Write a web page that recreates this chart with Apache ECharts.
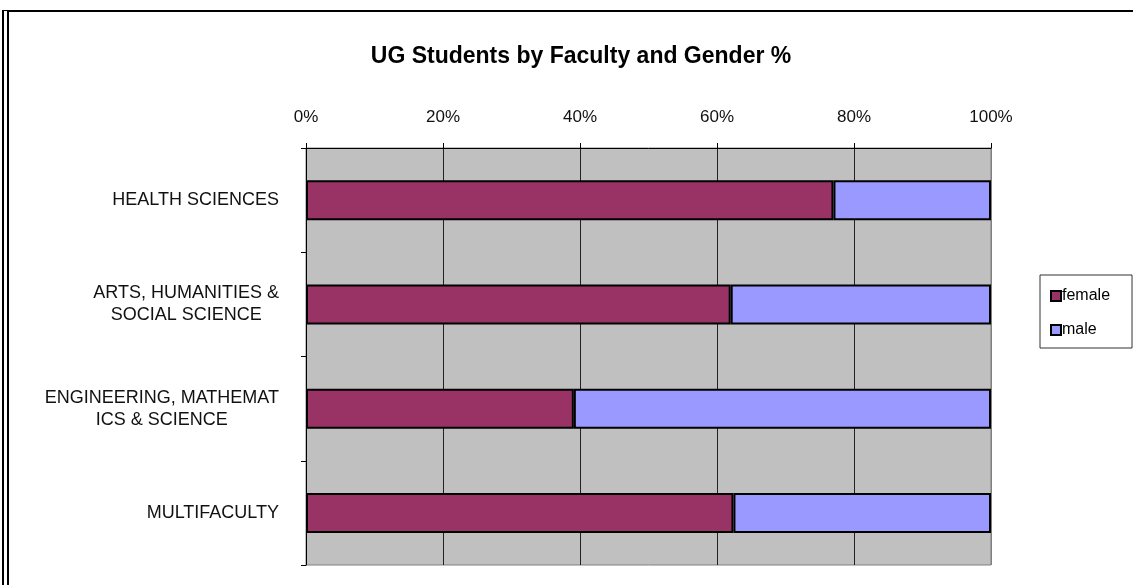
<!DOCTYPE html>
<html>
<head>
<meta charset="utf-8">
<script src="https://cdn.jsdelivr.net/npm/echarts@6/dist/echarts.min.js"></script>
<style>
  html, body { margin: 0; padding: 0; background: #fff; }
  #wrap { position: relative; width: 1133px; height: 585px; }
  #chart { width: 1133px; height: 585px; }
  #frame {
    position: absolute; left: 2px; top: 10px; width: 1140px; height: 600px;
    border-left: 7px double #000; border-top: 2px solid #000;
    pointer-events: none;
  }
</style>
</head>
<body>
<div id="wrap">
  <div id="chart"></div>
  <div id="frame"></div>
</div>
<script>
// faculties, top to bottom
const faculties = [
  "HEALTH SCIENCES",
  "ARTS, HUMANITIES &\nSOCIAL SCIENCE",
  "ENGINEERING, MATHEMAT\nICS & SCIENCE",
  "MULTIFACULTY"
];
const femalePct = [77.0, 62.0, 39.1, 62.4];
const malePct = [23.0, 38.0, 60.9, 37.6];
const xTicks = [0, 20, 40, 60, 80, 100];

let myChart = echarts.init(document.getElementById("chart"));
let font = "'Liberation Sans', Arial, sans-serif";

myChart.setOption({
  animation: false,
  textStyle: { fontFamily: font },
  title: {
    text: "UG Students by Faculty and Gender %",
    left: 576,
    top: 40,
    textAlign: "center",
    textStyle: { fontSize: 23, fontWeight: "bold", color: "#000", fontFamily: font }
  },
  legend: {
    orient: "vertical",
    left: 1040,
    top: 275,
    padding: [13, 22, 10, 10],
    borderColor: "#333",
    borderWidth: 1,
    itemWidth: 10,
    itemHeight: 10,
    itemGap: 18,
    icon: "rect",
    textStyle: { fontSize: 16, color: "#000", padding: [0, 0, 0, -4] },
    data: ["female", "male"]
  },
  grid: {
    left: 306,
    top: 148,
    right: 142,
    bottom: 20,
    show: true,
    backgroundColor: "#c0c0c0",
    borderColor: "#808080",
    borderWidth: 1
  },
  xAxis: {
    type: "value",
    position: "top",
    min: xTicks[0],
    max: xTicks[xTicks.length - 1],
    interval: 20,
    axisLine: { show: true, lineStyle: { color: "#000", width: 1 } },
    axisTick: { show: true, length: 5, lineStyle: { color: "#000" } },
    axisLabel: {
      formatter: "{value}%",
      margin: 22,
      fontSize: 17,
      color: "#111"
    },
    splitLine: {
      show: true,
      lineStyle: { color: ["#222", "#222", "#222", "#222", "#222", "#808080"], width: 1 }
    }
  },
  yAxis: {
    type: "category",
    inverse: true,
    data: faculties,
    axisLine: { show: true, lineStyle: { color: "#000", width: 1 } },
    axisTick: { show: true, length: 5, lineStyle: { color: "#000" } },
    axisLabel: {
      margin: 27,
      fontSize: 18,
      color: "#111",
      lineHeight: 22,
      formatter: function (v) {
        return v.split("\n").map(s => "{c|" + s + "}").join("\n");
      },
      rich: {
        c: { align: "center", fontSize: 18, color: "#111", lineHeight: 22 }
      }
    },
    splitLine: { show: false }
  },
  series: [
    {
      name: "female",
      type: "bar",
      stack: "g",
      barWidth: 40,
      data: femalePct,
      itemStyle: { color: "#993366", borderColor: "#000", borderWidth: 2 }
    },
    {
      name: "male",
      type: "bar",
      stack: "g",
      barWidth: 40,
      data: malePct,
      itemStyle: { color: "#9999ff", borderColor: "#000", borderWidth: 2 }
    }
  ]
});
</script>
</body>
</html>
